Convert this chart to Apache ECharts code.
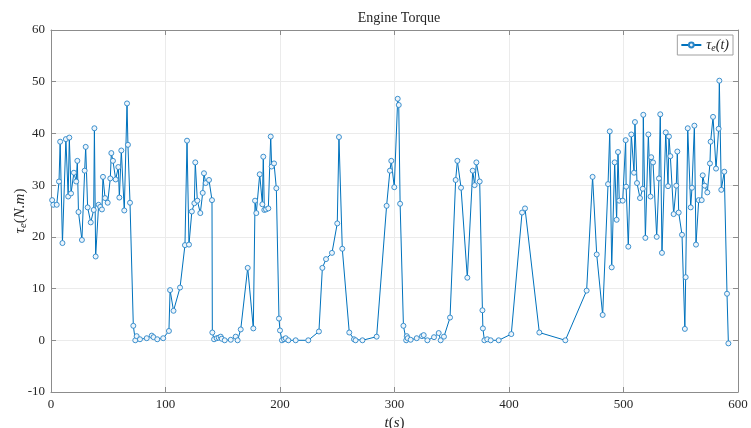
<!DOCTYPE html>
<html>
<head>
<meta charset="utf-8">
<script src="https://cdn.jsdelivr.net/npm/echarts@6/dist/echarts.min.js"></script>
<style>
  html, body { margin: 0; padding: 0; background: #fff; }
  #chart { width: 751px; height: 428px; }
</style>
</head>
<body>
<div id="chart"></div>
<script>
// Sample times (s)
const timeS = [
  1, 2, 5, 7, 8, 10, 13, 15, 16, 17.5, 20, 22, 23, 24, 27, 29.4, 30.3, 32, 34.7, 37.3,
  37.9, 39, 41.6, 43, 44.5, 45.4, 47.2, 49.5, 51.8, 52.7, 54.1, 56.5, 58.8, 59.7, 61.4, 64,
  66.4, 67.2, 69, 71.9, 73.6, 74.8, 77.7, 83.6, 88, 89.5, 92.8, 98, 103, 104, 107, 112.7,
  117, 118.8, 120.5, 123, 125.2, 126, 127.8, 130.4, 132.5, 133.6, 135.1, 138, 140.6, 140.9,
  142.4, 144.7, 146.5, 148.2, 149.1, 151.7, 157, 161.3, 163, 165.7, 171.8, 176.7, 178.2,
  179.3, 182.3, 184.6, 185.4, 186.3, 187.8, 189.8, 191.9, 192.7, 194.8, 196.8, 199.1, 200,
  201.7, 203.5, 205, 207.3, 213.7, 224.7, 234, 237, 240.2, 245.4, 250, 251.5, 254.4, 260.5,
  264.6, 266, 272, 284.4, 293.1, 296, 297.2, 299.8, 302.8, 303.7, 304.9, 307.8, 310.2,
  310.7, 311.5, 314.1, 319.4, 324, 325.5, 328.7, 334.5, 338.6, 340.3, 343.2, 348.5, 353.4,
  354.9, 358.1, 363.6, 368.3, 370, 371.5, 374.4, 376.8, 377.2, 378.5, 381, 384, 391, 402,
  411.4, 414, 426.5, 449.2, 467.8, 473, 476.6, 481.8, 486.5, 488, 489.7, 492.3, 494, 495.2,
  496.3, 499.3, 501.9, 502.3, 504.2, 506.8, 509.2, 510, 511.8, 514.4, 516.8, 517.3, 519.1,
  521.7, 523.6, 524.2, 525.8, 529, 531, 532.1, 533.6, 536.9, 538.9, 539.7, 540.9, 543.8,
  546.1, 547, 548.2, 551.1, 553.6, 554.3, 556.1, 558.7, 559.8, 561.9, 563.3, 565.7, 568.3,
  569.2, 570.9, 573.2, 575.5, 576.1, 578.2, 580.8, 583.1, 583.7, 585.4, 588, 590.4, 591.6
];

// Engine torque (N.m)
const torqueNm = [
  27.1, 26.2, 26.2, 30.7, 38.4, 18.8, 38.9, 27.8, 39.2, 28.4, 32.4, 30.7, 34.7, 24.8, 19.4, 32.8, 37.4, 25.7, 22.8, 25.2,
  41.0, 16.2, 26.2, 25.8, 25.3, 31.6, 27.5, 26.6, 31.3, 36.2, 34.7, 31.1, 33.5, 27.6, 36.7, 25.1,
  45.8, 37.8, 26.6, 2.8, 0, 0.8, 0.2, 0.4, 0.9, 0.6, 0.2, 0.4, 1.8, 9.7, 5.7, 10.2,
  18.4, 38.6, 18.5, 24.9, 26.5, 34.4, 27, 24.6, 28.5, 32.3, 30.4, 31, 27.1, 1.5,
  0.2, 0.4, 0.5, 0.7, 0.3, 0, 0.1, 0.7, 0, 2.1, 14.0, 2.3, 27,
  24.6, 32.1, 26.3, 35.5, 25.2, 25.3, 25.5, 39.4, 33.6, 34.2, 29.4, 4.2, 1.9,
  0, 0.2, 0.4, 0, 0, 0, 1.7, 14, 15.7, 16.9, 22.6, 39.3, 17.7, 1.5,
  0.2, 0, 0, 0.7, 26, 32.8, 34.7, 29.6, 46.7, 45.5, 26.4, 2.8, 0,
  0.8, 0.4, 0.1, 0.4, 0.8, 1, 0, 0.6, 1.4, 0, 0.7, 4.4, 31,
  34.7, 29.5, 12.1, 32.8, 30, 34.4, 30.7, 5.8, 2.3, 0, 0.2, 0, 0, 1.2,
  24.7, 25.5, 1.5, 0, 9.6, 31.6, 16.6, 4.9, 30.2, 40.4, 14.1, 34.4, 23.3, 36.4,
  27, 27, 38.7, 29.7, 18.1, 39.8, 32.4, 42.2, 30.4, 27.5, 29.3, 43.6, 19.8,
  39.8, 27.8, 35.4, 34.4, 20, 31.3, 43.7, 16.9, 40.2, 29.8, 39.4, 35.6, 24.4,
  29.9, 36.5, 24.7, 20.4, 2.2, 12.2, 41, 25.7, 29.5, 41.5, 18.5, 27.1, 27.1,
  31.9, 29.9, 28.6, 34.2, 38.4, 43.2, 33.2, 40.9, 50.2, 29.1, 32.6, 9.0, -0.6
];

const xTicks = { min: 0, max: 600, interval: 100 };
const yTicks = { min: -10, max: 60, interval: 10 };

const seriesData = timeS.map((t, i) => [t, torqueNm[i]]);

const SERIF = '"Liberation Serif", "DejaVu Serif", serif';
const AXIS_COLOR = '#8c8c8c';
const TEXT_COLOR = '#262626';
const LINE_BLUE = '#0072BD';

const frameAxis = (extra) => Object.assign({
  type: 'value',
  axisLine: { show: true, onZero: false, lineStyle: { color: AXIS_COLOR, width: 1 } },
  axisTick: { show: true, inside: true, length: 5, lineStyle: { color: AXIS_COLOR } },
  axisLabel: { show: false },
  splitLine: { show: false }
}, extra);

const chart = echarts.init(document.getElementById('chart'), null, { renderer: 'canvas' });
chart.setOption({
  backgroundColor: '#ffffff',
  animation: false,
  title: {
    text: 'Engine Torque',
    left: 394, top: 6, textAlign: 'center',
    textStyle: { fontFamily: SERIF, fontSize: 14, fontWeight: 'normal', color: TEXT_COLOR }
  },
  grid: { left: 51, right: 13, top: 30, bottom: 36, containLabel: false, outerBoundsMode: 'none' },
  legend: {
    right: 18, top: 35,
    backgroundColor: '#ffffff',
    borderColor: '#a0a0a0', borderWidth: 1, borderRadius: 0,
    padding: [2, 4, 2, 3],
    itemWidth: 20, itemHeight: 6, itemGap: 4,
    formatter: () => '{v|τ}{s|e}{v|(t)}',
    textStyle: {
      rich: {
        v: { fontFamily: SERIF, fontStyle: 'italic', fontSize: 14, color: TEXT_COLOR, lineHeight: 18 },
        s: { fontFamily: SERIF, fontStyle: 'italic', fontSize: 10, color: TEXT_COLOR, padding: [6, 0, 0, 0], lineHeight: 18 }
      }
    },
    data: [{ name: 'tau' }]
  },
  xAxis: [
    frameAxis({
      min: xTicks.min, max: xTicks.max, interval: xTicks.interval, position: 'bottom',
      axisLabel: { show: true, margin: 6, fontFamily: SERIF, fontSize: 13, color: TEXT_COLOR },
      splitLine: { show: true, lineStyle: { color: '#ebebeb', width: 1 } },
      name: '{i|t}{n|(}{i|s}{n|)}', nameLocation: 'middle', nameGap: 22,
      nameTextStyle: {
        rich: {
          i: { fontFamily: SERIF, fontStyle: 'italic', fontSize: 15, color: TEXT_COLOR },
          n: { fontFamily: SERIF, fontSize: 15, color: TEXT_COLOR }
        }
      }
    }),
    frameAxis({ min: xTicks.min, max: xTicks.max, interval: xTicks.interval, position: 'top' })
  ],
  yAxis: [
    frameAxis({
      min: yTicks.min, max: yTicks.max, interval: yTicks.interval, position: 'left',
      axisLabel: { show: true, margin: 6, fontFamily: SERIF, fontSize: 13, color: TEXT_COLOR },
      splitLine: { show: true, lineStyle: { color: '#ebebeb', width: 1 } },
      name: '{i|τ}{s|e}{n|(}{i|N.m}{n|)}', nameLocation: 'middle', nameGap: 22, nameRotate: 90,
      nameMoveOverlap: false,
      nameTextStyle: {
        rich: {
          i: { fontFamily: SERIF, fontStyle: 'italic', fontSize: 15, color: TEXT_COLOR, lineHeight: 18 },
          s: { fontFamily: SERIF, fontStyle: 'italic', fontSize: 11, color: TEXT_COLOR, padding: [7, 0, 0, 0], lineHeight: 18 },
          n: { fontFamily: SERIF, fontSize: 15, color: TEXT_COLOR, lineHeight: 18 }
        }
      }
    }),
    frameAxis({ min: yTicks.min, max: yTicks.max, interval: yTicks.interval, position: 'right' })
  ],
  series: [{
    name: 'tau',
    type: 'line',
    xAxisIndex: 0, yAxisIndex: 0,
    data: seriesData,
    symbol: 'circle',
    symbolSize: 5,
    showAllSymbol: true,
    lineStyle: { color: LINE_BLUE, width: 1 },
    itemStyle: { color: '#eef5fb', borderColor: '#2a86c8', borderWidth: 0.9 }
  }]
});
</script>
</body>
</html>
